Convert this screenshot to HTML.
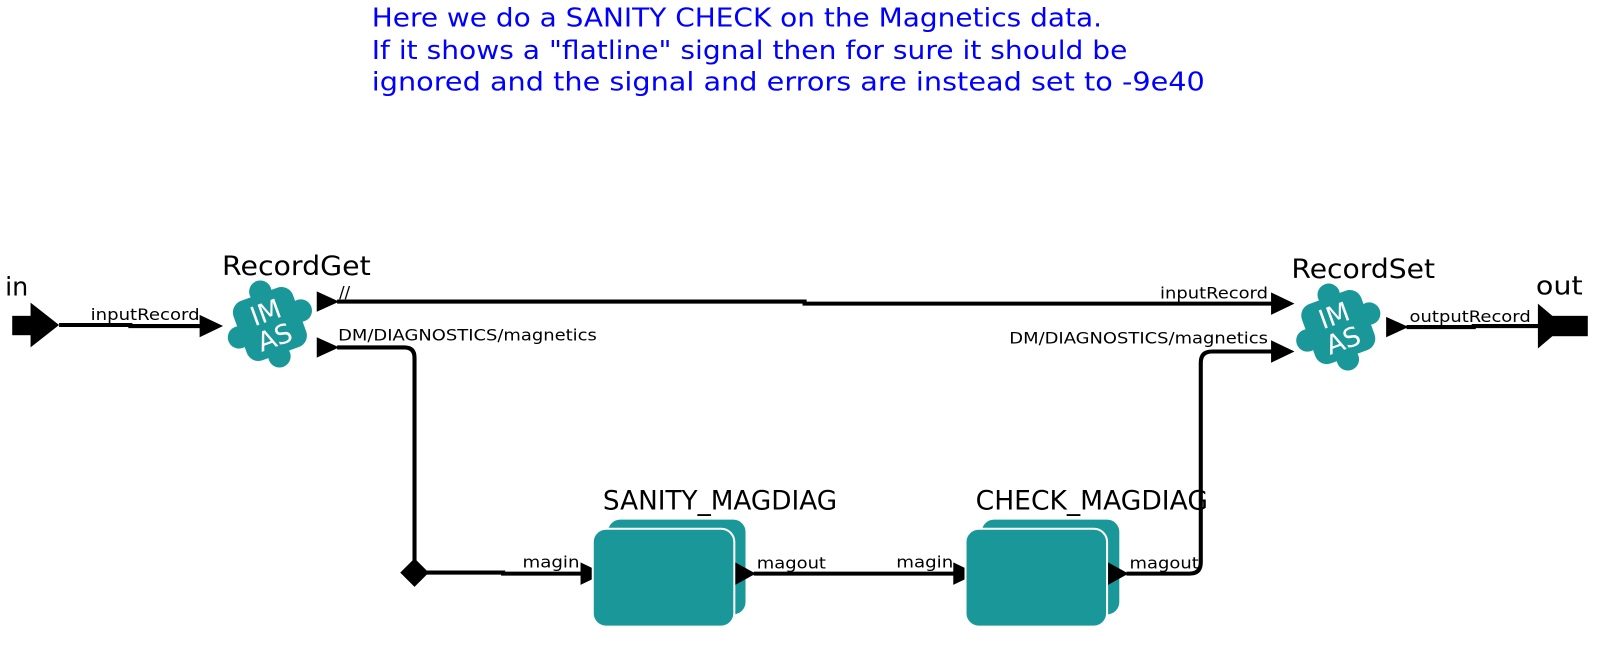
<!DOCTYPE html>
<html><head><meta charset="utf-8"><style>
html,body{margin:0;padding:0;background:#fff;width:1599px;height:649px;overflow:hidden}
svg{display:block}
text{font-family:"DejaVu Sans","Liberation Sans",sans-serif}
</style></head><body>
<svg width="1599" height="649" viewBox="0 0 1570 637" preserveAspectRatio="none" xmlns="http://www.w3.org/2000/svg">
<defs>
<g id="imas">
  <g transform="rotate(-20)">
    <rect x="-31" y="-31" width="62" height="62" rx="12" fill="#1a9899"/>
    <circle cx="2" cy="-33" r="11" fill="#1a9899"/>
    <circle cx="-2" cy="33" r="11" fill="#1a9899"/>
    <circle cx="-33" cy="2" r="11" fill="#1a9899"/>
    <circle cx="33" cy="-2" r="11" fill="#1a9899"/>
    <text x="0" y="-3" font-size="26" fill="#fff" text-anchor="middle">IM</text>
    <text x="0" y="23" font-size="26" fill="#fff" text-anchor="middle">AS</text>
  </g>
</g>
</defs>

<g fill="#0000ff" font-size="25">
<text x="365" y="26" textLength="717" lengthAdjust="spacingAndGlyphs">Here we do a SANITY CHECK on the Magnetics data.</text>
<text x="365" y="58" textLength="742" lengthAdjust="spacingAndGlyphs">If it shows a "flatline" signal then for sure it should be</text>
<text x="365" y="89" textLength="818" lengthAdjust="spacingAndGlyphs">ignored and the signal and errors are instead set to -9e40</text>
</g>

<!-- in port -->
<text x="5" y="290" font-size="25">in</text>
<rect x="12" y="310" width="20" height="19" fill="#000"/>
<polygon points="30,297 58,319 30,341" fill="#000"/>
<path d="M58,319 H128 V320 H198" stroke="#000" stroke-width="4" fill="none"/>
<polygon points="196,309 219,320 196,331" fill="#000"/>
<text x="89" y="314" font-size="16" textLength="107" lengthAdjust="spacingAndGlyphs">inputRecord</text>

<!-- RecordGet -->
<text x="218" y="270" font-size="26" textLength="146" lengthAdjust="spacingAndGlyphs">RecordGet</text>
<use href="#imas" transform="translate(265,318)"/>

<polygon points="311,286 333,296 311,306" fill="#000"/>
<path d="M331,296 H790 V298 H1250" stroke="#000" stroke-width="4" fill="none"/>
<polygon points="1248,287 1271,298 1248,309" fill="#000"/>
<text x="333" y="292" font-size="16">//</text>
<text x="1139" y="293" font-size="16" textLength="106" lengthAdjust="spacingAndGlyphs">inputRecord</text>

<polygon points="311,331 333,341 311,351" fill="#000"/>
<path d="M331,341 H397 Q407,341 407,351 V560" stroke="#000" stroke-width="4" fill="none"/>
<text x="332" y="334" font-size="16" textLength="254" lengthAdjust="spacingAndGlyphs">DM/DIAGNOSTICS/magnetics</text>
<polygon points="407,548 421,562 407,576 393,562" fill="#000"/>
<path d="M418,562 H494 V563 H572" stroke="#000" stroke-width="4" fill="none"/>
<polygon points="570,552 593,563 570,574" fill="#000"/>
<text x="513" y="557" font-size="16" textLength="56" lengthAdjust="spacingAndGlyphs">magin</text>

<!-- SANITY box -->
<text x="592" y="500" font-size="26" textLength="230" lengthAdjust="spacingAndGlyphs">SANITY_MAGDIAG</text>
<rect x="597" y="510" width="135" height="93" rx="12" fill="#1a9899"/>
<rect x="582" y="519" width="139" height="96" rx="13" fill="#1a9899" stroke="#fff" stroke-width="2"/>
<polygon points="722,552 742,563 722,574" fill="#000"/>
<path d="M740,563 H938" stroke="#000" stroke-width="4" fill="none"/>
<polygon points="936,552 959,563 936,574" fill="#000"/>
<text x="743" y="558" font-size="16" textLength="68" lengthAdjust="spacingAndGlyphs">magout</text>
<text x="880" y="557" font-size="16" textLength="56" lengthAdjust="spacingAndGlyphs">magin</text>

<!-- CHECK box -->
<text x="958" y="500" font-size="26" textLength="228" lengthAdjust="spacingAndGlyphs">CHECK_MAGDIAG</text>
<rect x="964" y="510" width="135" height="93" rx="12" fill="#1a9899"/>
<rect x="948" y="519" width="139" height="96" rx="13" fill="#1a9899" stroke="#fff" stroke-width="2"/>
<polygon points="1088,552 1108,563 1088,574" fill="#000"/>
<path d="M1106,563 H1168 Q1179,563 1179,552 V356 Q1179,345 1190,345 H1250" stroke="#000" stroke-width="4" fill="none"/>
<polygon points="1248,334 1271,345 1248,356" fill="#000"/>
<text x="1109" y="558" font-size="16" textLength="68" lengthAdjust="spacingAndGlyphs">magout</text>
<text x="991" y="337" font-size="16" textLength="254" lengthAdjust="spacingAndGlyphs">DM/DIAGNOSTICS/magnetics</text>

<!-- RecordSet -->
<text x="1268" y="273" font-size="26" textLength="141" lengthAdjust="spacingAndGlyphs">RecordSet</text>
<use href="#imas" transform="translate(1314,321)"/>
<polygon points="1361,311 1383,321 1361,331" fill="#000"/>
<path d="M1381,321 H1447 V320 H1514" stroke="#000" stroke-width="4" fill="none"/>
<text x="1384" y="316" font-size="16" textLength="119" lengthAdjust="spacingAndGlyphs">outputRecord</text>

<!-- out port -->
<text x="1508" y="289" font-size="25" textLength="46" lengthAdjust="spacingAndGlyphs">out</text>
<polygon points="1510,298 1536,320 1510,342" fill="#000"/>
<rect x="1524" y="310" width="35" height="20" fill="#000"/>
</svg>
</body></html>
